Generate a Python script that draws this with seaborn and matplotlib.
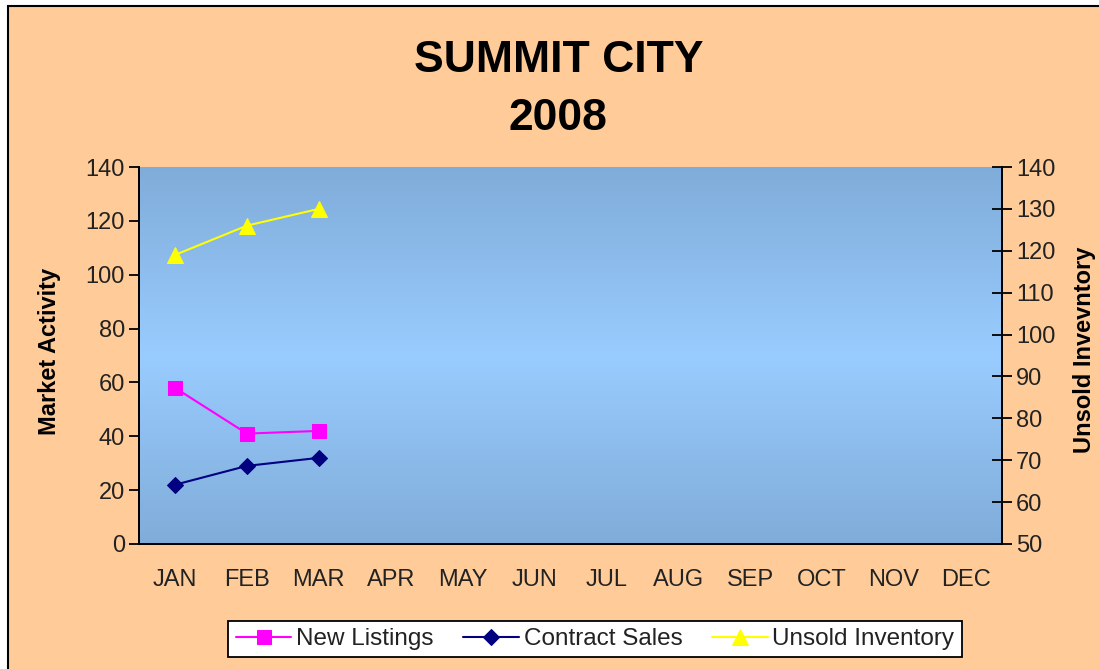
import numpy as np
import pandas as pd
import seaborn as sns
import matplotlib.pyplot as plt
from matplotlib.patches import Rectangle
from matplotlib.colors import LinearSegmentedColormap

# dati
months = ['JAN', 'FEB', 'MAR', 'APR', 'MAY', 'JUN', 'JUL', 'AUG', 'SEP', 'OCT', 'NOV', 'DEC']
data_months = ['JAN', 'FEB', 'MAR']
new_listings = [58, 41, 42]
contract_sales = [22, 29, 32]
unsold_inventory = [119, 126, 130]

df = pd.DataFrame({
    'pos': [months.index(m) for m in data_months],
    'New Listings': new_listings,
    'Contract Sales': contract_sales,
    'Unsold Inventory': unsold_inventory,
})

sns.set_style('white')
plt.rcParams['font.family'] = ['Liberation Sans', 'DejaVu Sans']
plt.rcParams['text.color'] = 'black'

peach = '#ffcc99'
fig = plt.figure(figsize=(10.99, 6.69), dpi=100, facecolor='white')
# cornice esterna
fig.patches.append(Rectangle((8 / 1099, -0.02), 1.0, 1 - 6 / 669 + 0.02, transform=fig.transFigure,
                             facecolor=peach, edgecolor='black', linewidth=1.5, zorder=-10))

ax = fig.add_axes([139 / 1099, 1 - 544 / 669, (1002 - 139) / 1099, (544 - 167) / 669])
ax.set_facecolor('none')

# sfondo sfumato dell'area del grafico
cmap = LinearSegmentedColormap.from_list('bg', ['#80acd9', '#99ccff', '#80acd9'])
grad = np.linspace(0, 1, 256).reshape(-1, 1)
ax.imshow(grad, cmap=cmap, aspect='auto', extent=[0, 1, 0, 1], transform=ax.transAxes, zorder=-5)

sns.lineplot(data=df, x='pos', y='New Listings', ax=ax, color='#ff00ff', marker='s', markersize=10,
             markeredgecolor='#ff00ff', linewidth=1.5, label='New Listings', legend=False)
sns.lineplot(data=df, x='pos', y='Contract Sales', ax=ax, color='#000080', marker='D', markersize=8,
             markeredgecolor='#000080', linewidth=1.5, label='Contract Sales', legend=False)

ax2 = ax.twinx()
sns.lineplot(data=df, x='pos', y='Unsold Inventory', ax=ax2, color='#ffff00', marker='^', markersize=12,
             markeredgecolor='#ffff00', linewidth=1.5, label='Unsold Inventory', legend=False)

ax.set_xlim(-0.5, 11.5)
ax.set_ylim(0, 140)
ax2.set_ylim(50, 140)
ax.set_yticks(range(0, 141, 20))
ax2.set_yticks(range(50, 141, 10))
ax.set_xticks(range(12))
ax.set_xticklabels(months)
ax.set_xticks(np.arange(-0.5, 12, 1), minor=True)

ax.tick_params(axis='x', which='major', length=0, pad=18, labelsize=17, labelcolor='#222222')
ax.tick_params(axis='x', which='minor', length=8, width=1.3, direction='out', color='black')
ax.tick_params(axis='y', length=7, width=1.3, direction='out', labelsize=17, pad=3,
               color='black', labelcolor='#222222')
ax2.tick_params(axis='y', length=14, width=1.3, direction='inout', labelsize=17, pad=3,
                color='black', labelcolor='#222222')

for a in (ax, ax2):
    a.spines['top'].set_visible(False)
    for s in ('left', 'right', 'bottom'):
        a.spines[s].set_color('black')
        a.spines[s].set_linewidth(1.3)

ax.set_xlabel('')
ax.set_ylabel('')
ax2.set_ylabel('')
fig.text(50 / 1099, 1 - 351 / 669, 'Market Activity', rotation=90, fontsize=17,
         fontweight='bold', ha='center', va='center')
fig.text(1084 / 1099, 1 - 350 / 669, 'Unsold Invevntory', rotation=90, fontsize=17,
         fontweight='bold', ha='center', va='center')

fig.text(0.508, 1 - 60 / 669, 'SUMMIT CITY', fontsize=32, fontweight='bold', ha='center', va='center')
fig.text(0.508, 1 - 118 / 669, '2008', fontsize=32, fontweight='bold', ha='center', va='center')

handles = ax.get_lines()[:2] + ax2.get_lines()[:1]
leg = fig.legend(handles, ['New Listings', 'Contract Sales', 'Unsold Inventory'], loc='center',
                 bbox_to_anchor=(595 / 1099, 1 - 639 / 669), ncol=3, fontsize=17.5, frameon=True,
                 fancybox=False, edgecolor='black', framealpha=1, handlelength=2.3, columnspacing=1.2,
                 handletextpad=0.2, borderpad=0.3)
leg.get_frame().set_linewidth(1.3)
leg.get_frame().set_facecolor('white')
for t in leg.get_texts():
    t.set_color('#222222')

fig.savefig('out.png', dpi=100, facecolor=fig.get_facecolor())
